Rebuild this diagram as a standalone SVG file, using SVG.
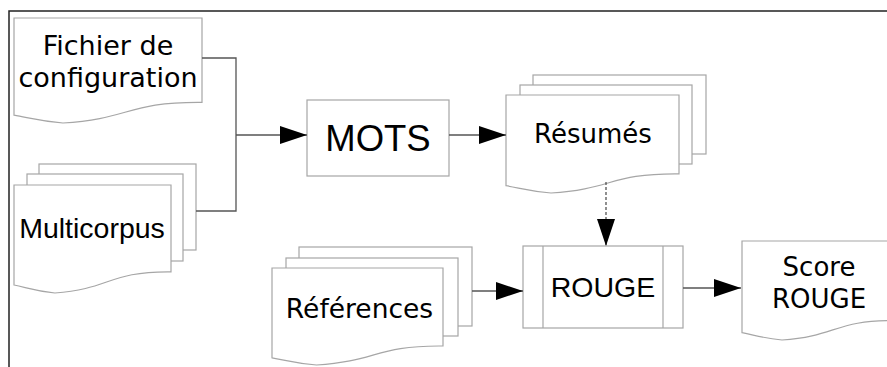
<svg xmlns="http://www.w3.org/2000/svg" width="887" height="367" viewBox="0 0 887 367">
<style>
.shape{fill:#fff;stroke:#a6a6a6;stroke-width:1.2}
.conn{fill:none;stroke:#555;stroke-width:1.3}
.frame{fill:none;stroke:#222;stroke-width:1.5}
.dj{font-family:"DejaVu Sans",sans-serif;fill:#000;text-anchor:middle}
.lb{font-family:"Liberation Sans",Arial,sans-serif;fill:#000;text-anchor:middle}
</style>
<defs>
<marker id="ah" markerUnits="userSpaceOnUse" markerWidth="27" markerHeight="18" refX="27" refY="9" orient="auto">
<path d="M0,0 L27,9 L0,18 Z" fill="#000"/>
</marker>
</defs>
<rect width="887" height="367" fill="#fff"/>
<path class="frame" d="M9,367 V11 H887"/>

<g id="fichier">
<path class="shape" d="M14,18 H202 V102.4 C127.6,101.7 130.1,119 62.9,123 C38.4,120.8 29,117.7 14,115.2 Z"/>
<text class="dj" x="108" y="55" font-size="27">Fichier de</text>
<text class="dj" x="108" y="87" font-size="27">configuration</text>
</g>

<g id="multicorpus">
<rect class="shape" x="39" y="164" width="157" height="86"/>
<rect class="shape" x="27" y="174" width="156" height="87"/>
<path class="shape" d="M14,185 H171 V271.8 C108.8,271.1 110.8,288.9 54.9,293 C34.4,290.8 26.6,287.5 14,285 Z"/>
<text class="lb" x="92" y="238" font-size="28.5">Multicorpus</text>
</g>

<g id="mots">
<rect class="shape" x="307" y="100" width="142" height="76"/>
<text class="lb" x="378" y="151" font-size="36.5">MOTS</text>
</g>

<g id="resumes">
<rect class="shape" x="533" y="75" width="173" height="79"/>
<rect class="shape" x="520" y="85" width="172" height="79"/>
<path class="shape" d="M506,95 H679 V173.8 C610.5,173.1 612.8,189.2 551,193 C528.5,191 520,188 506,185.7 Z"/>
<text class="dj" x="593" y="143" font-size="26">Résumés</text>
</g>

<g id="rouge">
<rect class="shape" x="523" y="246" width="160" height="82"/>
<line class="shape" x1="543" y1="246" x2="543" y2="328"/>
<line class="shape" x1="663" y1="246" x2="663" y2="328"/>
<text class="lb" x="603" y="297" font-size="28.5">ROUGE</text>
</g>

<g id="references">
<rect class="shape" x="299" y="247" width="173" height="79"/>
<rect class="shape" x="286" y="258" width="172" height="78"/>
<path class="shape" d="M272,268 H443 V346 C375.3,345.3 377.6,361.3 316.5,365 C294.3,363.1 286,360.2 272,357.8 Z"/>
<text class="dj" x="359.5" y="318" font-size="26.5">Références</text>
</g>

<g id="score">
<path class="shape" d="M742,241 H896 V320.6 C835,319.9 837,336.2 782,340 C762,338 754.5,335 742,332.7 Z"/>
<text class="dj" x="819" y="276" font-size="26">Score</text>
<text class="dj" x="819" y="308" font-size="26">ROUGE</text>
</g>

<g id="connectors">
<path class="conn" d="M202,58 H236 V211 H196"/>
<path class="conn" d="M236,135 H307" marker-end="url(#ah)"/>
<path class="conn" d="M449,135 H506" marker-end="url(#ah)"/>
<path class="conn" d="M606,182 V246" stroke-dasharray="3,2" marker-end="url(#ah)"/>
<path class="conn" d="M472,291 H523" marker-end="url(#ah)"/>
<path class="conn" d="M683,288 H741" marker-end="url(#ah)"/>
</g>
</svg>
